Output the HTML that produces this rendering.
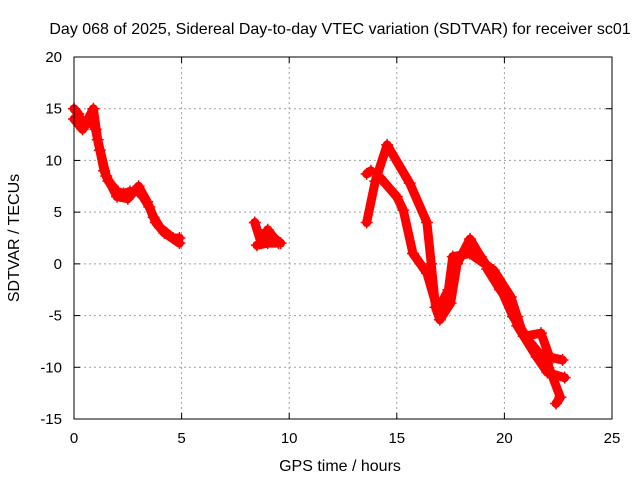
<!DOCTYPE html>
<html><head><meta charset="utf-8"><style>
body{margin:0;background:#fff;}
svg{display:block;font-family:"Liberation Sans",sans-serif;}
</style></head><body>
<svg id="chart" width="640" height="480">
<text x="340" y="34" font-size="16" text-anchor="middle">Day 068 of 2025, Sidereal Day-to-day VTEC variation (SDTVAR) for receiver sc01</text>
<text x="340" y="471" font-size="16" text-anchor="middle">GPS time / hours</text>
<text transform="translate(19,238) rotate(-90)" font-size="16" text-anchor="middle">SDTVAR / TECUs</text>
<g id="grid"></g><g id="ticks"></g><g id="marks"></g>
<rect x="74" y="57" width="538" height="362" fill="none" stroke="#000"/>
</svg>
<script>
const xTicks=[0,5,10,15,20,25];
const yTicks=[-15,-10,-5,0,5,10,15,20];
const trackA1=[[0,15],[0.2,14.5],[0.4,13.5],[0.6,13.5],[0.8,14],[1.0,13],[1.2,11],[1.4,9],[1.6,8],[1.8,7.5],[2.0,7],[2.3,6.8],[2.6,7],[3.0,7],[3.2,6.5],[3.5,5.5],[3.7,4.5],[4.0,3.5],[4.3,3],[4.6,2.5],[4.9,2.5]];
const trackA2=[[0,14],[0.4,13],[0.9,15],[1.1,12],[1.5,8.5],[2,6.5],[2.5,6.3],[3,7.5],[3.4,6],[3.8,4],[4.2,3],[4.9,2]];
const trackB1=[[8.4,4],[8.7,2],[9,3.3],[9.3,2.5],[9.6,2]];
const trackB2=[[8.5,1.8],[9,2],[9.5,2]];
const trackC1=[[13.6,4],[14.0,8],[14.55,11.5],[15.6,7.8],[16.4,4],[16.6,0],[16.8,-4.2],[17,-5.4],[17.5,-3.8],[17.8,0],[18.4,2.4],[18.9,0.7],[19.7,-1.8],[20.4,-5.1],[21.2,-7.6],[22,-9.6],[22.6,-12.9],[22.4,-13.5]];
const trackC2=[[14.2,8.4],[15,6.5],[15.3,5.2],[15.75,1],[16.4,-0.9],[16.9,-4.5],[17.4,-2.5],[17.6,0.7],[18.4,1],[19.5,-0.6],[20.3,-3.2],[20.6,-5.1],[20.9,-7],[21.7,-6.7],[22.1,-9],[22.7,-9.3]];
const trackC3=[[19.2,-0.5],[19.8,-2.5],[20.3,-4],[20.6,-6],[21.5,-9],[22,-10.5],[22.8,-11]];
const trackC4=[[13.6,8.7],[13.8,9]];
const tracks=[trackA1,trackA2,trackB1,trackB2,trackC1,trackC2,trackC3,trackC4];
const L=74,R=612,T=57,B=419;
const sx=v=>L+(v-0)/(25-0)*(R-L);
const sy=v=>B-(v+15)/(35)*(B-T);
const NS='http://www.w3.org/2000/svg';
const g=document.getElementById('grid'),tk=document.getElementById('ticks'),mk=document.getElementById('marks');
function mkEl(t,a,p){const e=document.createElementNS(NS,t);for(const k in a)e.setAttribute(k,a[k]);p.appendChild(e);return e;}
xTicks.forEach(v=>{const x=sx(v);
 if(v>0&&v<25){const l=mkEl('line',{x1:x,x2:x,y1:T,y2:B,stroke:'#a0a0a0','stroke-dasharray':'2,3'},g);}
 mkEl('line',{x1:x,x2:x,y1:B,y2:B-6,stroke:'#000'},tk);mkEl('line',{x1:x,x2:x,y1:T,y2:T+6,stroke:'#000'},tk);
 const t=mkEl('text',{x:x,y:B+24,'font-size':15,'text-anchor':'middle'},tk);t.textContent=v;
 });
yTicks.forEach(v=>{const y=sy(v);
 if(v>-15&&v<20){const l=mkEl('line',{x1:L,x2:R,y1:y,y2:y,stroke:'#a0a0a0','stroke-dasharray':'2,3'},g);}
 mkEl('line',{x1:L,x2:L+6,y1:y,y2:y,stroke:'#000'},tk);mkEl('line',{x1:R,x2:R-6,y1:y,y2:y,stroke:'#000'},tk);
 const t=mkEl('text',{x:L-12,y:y+5,'font-size':15,'text-anchor':'end'},tk);t.textContent=v;
 });
tracks.forEach(tr=>{
 const p=mkEl('polyline',{points:tr.map(d=>sx(d[0])+','+sy(d[1])).join(' '),fill:'none',stroke:'#ff0000','stroke-width':9,'stroke-linejoin':'round','stroke-linecap':'round'},mk);
 
 
 tr.forEach(d=>{const x=sx(d[0]),y=sy(d[1]);
  const m=mkEl('path',{d:`M${x-6},${y}h12M${x},${y-6}v12`,stroke:'#ff0000','stroke-width':1.5},mk);
  
  });
});
</script>
</body></html>
